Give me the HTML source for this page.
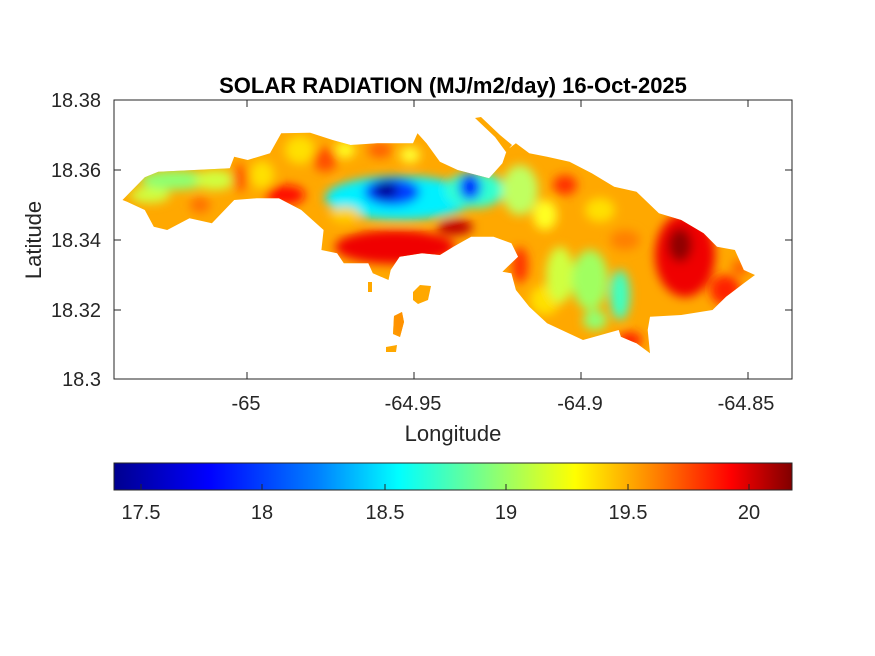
<!DOCTYPE html>
<html><head><meta charset="utf-8"><style>
html,body{margin:0;padding:0;background:#fff;}
svg{display:block;font-family:"Liberation Sans",sans-serif;}
</style></head><body>
<svg width="875" height="656" viewBox="0 0 875 656" xmlns="http://www.w3.org/2000/svg">
<defs>
<clipPath id="isl">
<polygon points="122.5,200 144.8,177.3 158.3,171.7 194,170 229.8,168.3 234.2,156.7 247.7,160 270,153.3 281.2,133.3 310.2,132.7 332.6,140 350.5,145 377.3,143.3 413,143.3 417.5,133.3 426.5,143.3 439.9,161.7 457.7,170 489,178.3 502.4,163.3 506.9,150 515.9,143.3 529.3,153.3 547.1,156.7 569.5,161.7 591.8,173.3 614.2,186.7 636.5,191.7 658.9,213.3 681.2,220 703.6,233.3 717,246.7 734.9,250 743.8,270 755,275 743.8,283.3 726,296.7 712.5,310 681.2,315 650,316.7 647.7,330 650,353.3 636.5,343.3 620.9,336.7 618.7,330 583,340 547.1,323.3 529.3,306.7 515.9,290 511.4,273.3 502.4,271.7 518.1,256.7 511.4,243.3 493.5,236.7 471.2,236.7 453.3,246.7 439.9,255 422,253.3 399.6,256.7 390.7,270 388.5,280 372.8,273.3 368.3,263.3 343.8,263.3 337.1,253.3 321.4,250 323.6,230 301.3,210 278.9,198.3 256.6,198.3 234.2,200 211.9,223.3 189.5,218.3 167.2,230 153.8,226.7 144.8,210 127,201.7"/>
<polygon points="475,118 481,117 500,135 512,145 506,152 495,137"/>
<polygon points="413,292 420,285 431,286 428,300 418,304 413,300"/>
<polygon points="394,316 402,312 404,322 400,337 393,334"/>
<polygon points="386,347 397,345 396,352 386,352"/>
<polygon points="368,282 372,282 372,292 368,292"/>
</clipPath>
<filter id="bl" x="-20%" y="-20%" width="140%" height="140%"><feGaussianBlur stdDeviation="5"/></filter>
<linearGradient id="jet" x1="0" x2="1" y1="0" y2="0">
<stop offset="0" stop-color="#00008f"/>
<stop offset="0.14" stop-color="#0000ff"/>
<stop offset="0.3" stop-color="#0080ff"/>
<stop offset="0.42" stop-color="#00ffff"/>
<stop offset="0.55" stop-color="#80ff80"/>
<stop offset="0.68" stop-color="#ffff00"/>
<stop offset="0.8" stop-color="#ff8000"/>
<stop offset="0.91" stop-color="#ff0000"/>
<stop offset="1" stop-color="#800000"/>
</linearGradient>
</defs>
<g clip-path="url(#isl)">
<rect x="110" y="100" width="690" height="280" fill="#ffa800"/>
<g filter="url(#bl)">
<ellipse cx="150" cy="195" rx="20" ry="8" fill="#d0ff40"/>
<ellipse cx="175" cy="180" rx="35" ry="10" fill="#90ff70"/>
<ellipse cx="215" cy="180" rx="20" ry="10" fill="#d0ff40"/>
<ellipse cx="240" cy="178" rx="8" ry="14" fill="#ff6000"/>
<ellipse cx="200" cy="205" rx="10" ry="8" fill="#ff7000"/>
<ellipse cx="285" cy="195" rx="20" ry="10" fill="#ff1000"/>
<ellipse cx="262" cy="175" rx="12" ry="14" fill="#ffe000"/>
<ellipse cx="300" cy="150" rx="15" ry="14" fill="#ffe000"/>
<ellipse cx="325" cy="160" rx="12" ry="12" fill="#ff5000"/>
<ellipse cx="345" cy="150" rx="10" ry="8" fill="#ffff20"/>
<ellipse cx="380" cy="150" rx="12" ry="8" fill="#ff6000"/>
<ellipse cx="410" cy="155" rx="10" ry="8" fill="#ffff30"/>
<ellipse cx="400" cy="198" rx="75" ry="22" fill="#00f0ff"/>
<ellipse cx="475" cy="190" rx="30" ry="18" fill="#30ffd0"/>
<ellipse cx="392" cy="192" rx="28" ry="14" fill="#0040ff"/>
<ellipse cx="386" cy="190" rx="12" ry="8" fill="#000090"/>
<ellipse cx="470" cy="187" rx="11" ry="13" fill="#0030ff"/>
<ellipse cx="345" cy="215" rx="15" ry="8" fill="#ffd000"/>
<ellipse cx="395" cy="247" rx="60" ry="17" fill="#f00000"/>
<ellipse cx="455" cy="227" rx="18" ry="8" fill="#c00000"/>
<ellipse cx="520" cy="190" rx="18" ry="25" fill="#c0ff60"/>
<ellipse cx="545" cy="215" rx="12" ry="15" fill="#ffff20"/>
<ellipse cx="565" cy="185" rx="12" ry="10" fill="#ff3000"/>
<ellipse cx="600" cy="210" rx="15" ry="12" fill="#ffe000"/>
<ellipse cx="625" cy="240" rx="15" ry="10" fill="#ff8000"/>
<ellipse cx="520" cy="265" rx="8" ry="18" fill="#ff3000"/>
<ellipse cx="545" cy="300" rx="15" ry="15" fill="#ffe000"/>
<ellipse cx="560" cy="275" rx="14" ry="28" fill="#d0ff40"/>
<ellipse cx="590" cy="280" rx="18" ry="30" fill="#a0ff60"/>
<ellipse cx="620" cy="295" rx="10" ry="25" fill="#40ffc0"/>
<ellipse cx="595" cy="320" rx="12" ry="10" fill="#90ff70"/>
<ellipse cx="685" cy="255" rx="30" ry="42" fill="#f00000"/>
<ellipse cx="680" cy="245" rx="12" ry="17" fill="#900000"/>
<ellipse cx="725" cy="290" rx="15" ry="15" fill="#ff2000"/>
<ellipse cx="740" cy="268" rx="8" ry="8" fill="#ff6000"/>
<ellipse cx="630" cy="340" rx="12" ry="8" fill="#ff2000"/>
<ellipse cx="400" cy="320" rx="10" ry="20" fill="#ff9000"/>
</g>
</g>
<rect x="114" y="100" width="678" height="279" fill="none" stroke="#262626" stroke-width="1"/>
<g stroke="#262626" stroke-width="1">
<line x1="247" y1="100" x2="247" y2="107"/><line x1="247" y1="379" x2="247" y2="372"/>
<line x1="414" y1="100" x2="414" y2="107"/><line x1="414" y1="379" x2="414" y2="372"/>
<line x1="581" y1="100" x2="581" y2="107"/><line x1="581" y1="379" x2="581" y2="372"/>
<line x1="748" y1="100" x2="748" y2="107"/><line x1="748" y1="379" x2="748" y2="372"/>
<line x1="114" y1="170" x2="121" y2="170"/><line x1="792" y1="170" x2="785" y2="170"/>
<line x1="114" y1="240" x2="121" y2="240"/><line x1="792" y1="240" x2="785" y2="240"/>
<line x1="114" y1="310" x2="121" y2="310"/><line x1="792" y1="310" x2="785" y2="310"/>
</g>
<g fill="#262626" font-size="20">
<text x="101" y="107" text-anchor="end">18.38</text>
<text x="101" y="177" text-anchor="end">18.36</text>
<text x="101" y="247" text-anchor="end">18.34</text>
<text x="101" y="317" text-anchor="end">18.32</text>
<text x="101" y="386" text-anchor="end">18.3</text>
<g text-anchor="middle">
<text x="246" y="410">-65</text>
<text x="413" y="410">-64.95</text>
<text x="580" y="410">-64.9</text>
<text x="746" y="410">-64.85</text>
<text x="453" y="441" font-size="22">Longitude</text>
<text transform="translate(41,240) rotate(-90)" font-size="22">Latitude</text>
</g>
<text x="453" y="93" text-anchor="middle" font-size="22" font-weight="bold" fill="#000">SOLAR RADIATION (MJ/m2/day) 16-Oct-2025</text>
</g>
<rect x="114" y="463" width="678" height="27" fill="url(#jet)" stroke="#262626" stroke-width="1"/>
<g stroke="#262626" stroke-width="1">
<line x1="141" y1="490" x2="141" y2="484"/><line x1="262" y1="490" x2="262" y2="484"/>
<line x1="385" y1="490" x2="385" y2="484"/><line x1="506" y1="490" x2="506" y2="484"/>
<line x1="628" y1="490" x2="628" y2="484"/><line x1="749" y1="490" x2="749" y2="484"/>
</g>
<g fill="#262626" font-size="20" text-anchor="middle">
<text x="141" y="519">17.5</text><text x="262" y="519">18</text><text x="385" y="519">18.5</text>
<text x="506" y="519">19</text><text x="628" y="519">19.5</text><text x="749" y="519">20</text>
</g>
</svg>
</body></html>
